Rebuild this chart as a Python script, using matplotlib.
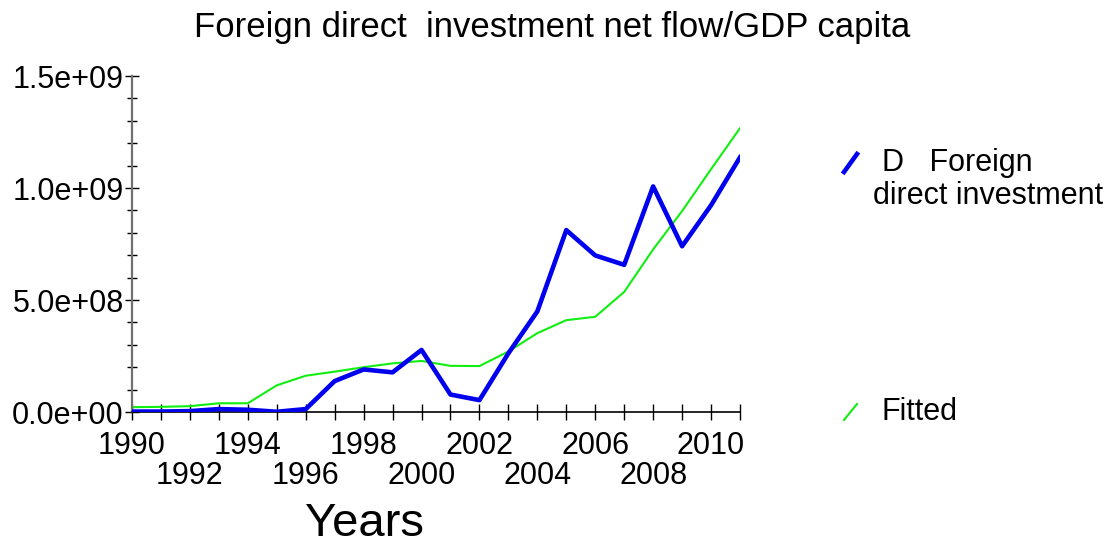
import numpy as np
import matplotlib.pyplot as plt
from matplotlib.lines import Line2D
from matplotlib.ticker import MultipleLocator

plt.rcParams['font.family'] = ['Liberation Sans', 'DejaVu Sans']

years = list(range(1990, 2012))
# D Foreign direct investment
fdi = [0.002e9, 0.002e9, 0.004e9, 0.013e9, 0.010e9, 0.001e9, 0.013e9,
       0.138e9, 0.190e9, 0.177e9, 0.277e9, 0.078e9, 0.053e9, 0.262e9,
       0.449e9, 0.812e9, 0.699e9, 0.657e9, 1.007e9, 0.740e9, 0.923e9,
       1.137e9]
# Fitted values
fitted = [0.0215e9, 0.023e9, 0.026e9, 0.039e9, 0.039e9, 0.119e9, 0.162e9,
          0.180e9, 0.200e9, 0.217e9, 0.228e9, 0.206e9, 0.205e9, 0.270e9,
          0.352e9, 0.410e9, 0.425e9, 0.536e9, 0.726e9, 0.897e9, 1.084e9,
          1.267e9]
row1_years = [1990, 1994, 1998, 2002, 2006, 2010]
row2_years = [1992, 1996, 2000, 2004, 2008]
yticks = [0, 0.5e9, 1.0e9, 1.5e9]
ytick_labels = ['0.0e+00', '5.0e+08', '1.0e+09', '1.5e+09']

W, H = 1112, 549
fig = plt.figure(figsize=(W / 100, H / 100), dpi=100)
ax = fig.add_axes([132 / W, 1 - 412 / H, (740 - 132) / W, (412 - 76) / H])

ax.plot(years, fitted, color='#11ee11', lw=1.5, zorder=2)
ax.plot(years, fdi, color='#0000ee', lw=3.3, zorder=3)

ax.set_xlim(1990, 2011)
ax.set_ylim(0, 1.5e9)

# x labels on two alternating rows: majors carry row 1, minors row 2
ax.set_xticks(years)
ax.set_xticklabels([str(y) if y in row1_years else '' for y in years], fontsize=22)
ax.tick_params(axis='x', which='major', direction='inout', length=11, width=1.0, pad=8)
ax.xaxis.remove_overlapping_locs = False
ax.set_xticks(row2_years, minor=True)
ax.set_xticklabels([str(y) for y in row2_years], minor=True, fontsize=22)
ax.tick_params(axis='x', which='minor', length=0, pad=35.5)

ax.set_yticks(yticks)
ax.set_yticklabels(ytick_labels, fontsize=22)
ax.yaxis.set_minor_locator(MultipleLocator(1e8))
ax.tick_params(axis='y', which='major', direction='inout', length=10, width=1.0, pad=1)
ax.tick_params(axis='y', which='minor', direction='inout', length=6.5, width=1.0)

for s in ['top', 'right']:
    ax.spines[s].set_visible(False)
ax.spines['left'].set_color('#707070')
ax.spines['left'].set_linewidth(1.6)
ax.spines['bottom'].set_linewidth(1.2)

fig.text(552 / W, 1 - 28 / H, 'Foreign direct  investment net flow/GDP capita',
         ha='center', va='center', fontsize=25)
fig.text(365 / W, 1 - 524 / H, 'Years', ha='center', va='center', fontsize=34)

# legend
fig.add_artist(Line2D([844 / W, 857 / W], [1 - 172 / H, 1 - 154 / H],
                      color='#0000ee', lw=3.3))
fig.text(882 / W, 1 - 163 / H, 'D   Foreign', ha='left', va='center', fontsize=22)
fig.text(873 / W, 1 - 196 / H, 'direct investment', ha='left', va='center', fontsize=22)
fig.add_artist(Line2D([844 / W, 857 / W], [1 - 420 / H, 1 - 404 / H],
                      color='#11ee11', lw=1.5))
fig.text(882 / W, 1 - 412 / H, 'Fitted', ha='left', va='center', fontsize=22)

fig.savefig('out.png', dpi=100)
